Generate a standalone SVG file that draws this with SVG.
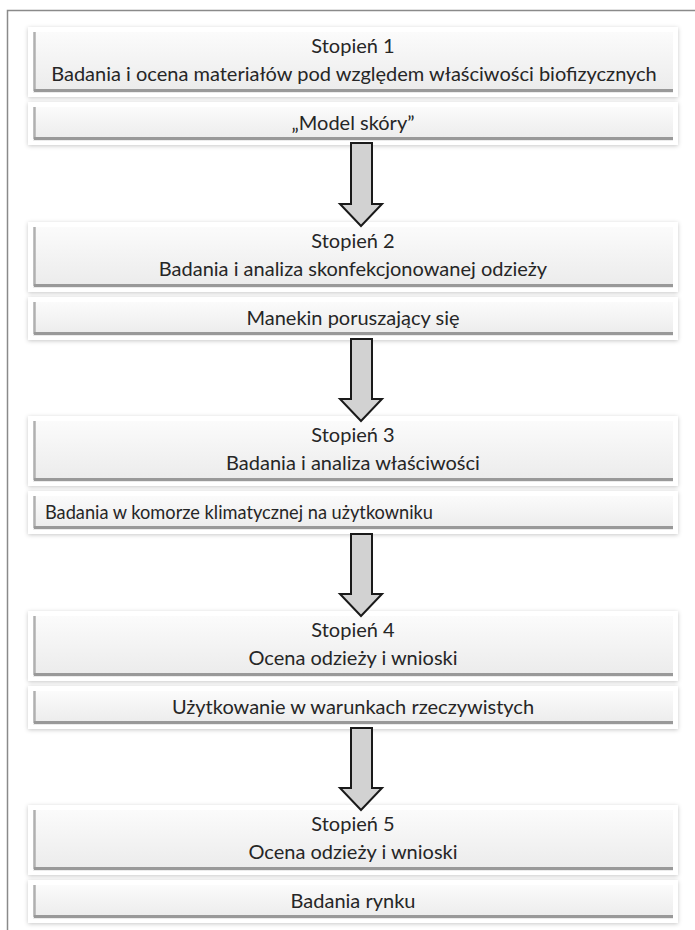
<svg xmlns="http://www.w3.org/2000/svg" width="695" height="930" viewBox="0 0 695 930">
<defs>
<linearGradient id="g" x1="0" y1="0" x2="0" y2="1">
<stop offset="0" stop-color="#fbfbfb"/>
<stop offset="1" stop-color="#ebebeb"/>
</linearGradient>
<filter id="sh" x="-5%" y="-20%" width="110%" height="140%">
<feDropShadow dx="0" dy="1" stdDeviation="2" flood-color="#000" flood-opacity="0.22"/>
</filter>
<symbol id="big" overflow="visible">
<rect x="0" y="0" width="650" height="70" fill="#fff" filter="url(#sh)"/>
<rect x="5" y="5" width="640" height="61" fill="url(#g)"/>
<line x1="6.5" y1="5" x2="6.5" y2="64" stroke="#b0b0b0" stroke-width="2.5"/>
<line x1="6" y1="63.5" x2="645" y2="63.5" stroke="#999" stroke-width="3"/>
</symbol>
<symbol id="small" overflow="visible">
<rect x="0" y="0" width="650" height="43" fill="#fff" filter="url(#sh)"/>
<rect x="5" y="5" width="640" height="34" fill="url(#g)"/>
<line x1="6.5" y1="5" x2="6.5" y2="37" stroke="#b0b0b0" stroke-width="2.5"/>
<line x1="6" y1="36.5" x2="645" y2="36.5" stroke="#999" stroke-width="3"/>
</symbol>
</defs>
<style>
text{font-family:Lato,"Open Sans","Liberation Sans",sans-serif;font-size:20px;fill:#262626;text-anchor:middle}
text.l{text-anchor:start}
.arr{fill:#d2d2d2;stroke:#1a1a1a;stroke-width:2;stroke-linejoin:miter}
</style>
<rect width="695" height="930" fill="#fff"/>
<path d="M7.5 930 V10.5 H695" fill="none" stroke="#8a8a8a" stroke-width="1.5"/>

<g id="stage1"><use href="#big" x="28" y="27"/><text x="353" y="53">Stopień 1</text><text x="354" y="81">Badania i ocena materiałów pod względem właściwości biofizycznych</text></g>
<g id="sub1"><use href="#small" x="28" y="102"/><text x="353" y="130">„Model skóry”</text></g>

<g id="stage2"><use href="#big" x="28" y="222"/><text x="353" y="248">Stopień 2</text><text x="353" y="276">Badania i analiza skonfekcjonowanej odzieży</text></g>
<g id="sub2"><use href="#small" x="28" y="297"/><text x="353" y="325">Manekin poruszający się</text></g>

<g id="stage3"><use href="#big" x="28" y="416"/><text x="353" y="442">Stopień 3</text><text x="353" y="470">Badania i analiza właściwości</text></g>
<g id="sub3"><use href="#small" x="28" y="491"/><text class="l" x="45" y="519" textLength="388" lengthAdjust="spacingAndGlyphs">Badania w komorze klimatycznej na użytkowniku</text></g>

<g id="stage4"><use href="#big" x="28" y="611"/><text x="353" y="637">Stopień 4</text><text x="353" y="665">Ocena odzieży i wnioski</text></g>
<g id="sub4"><use href="#small" x="28" y="686"/><text x="353" y="714">Użytkowanie w warunkach rzeczywistych</text></g>

<g id="stage5"><use href="#big" x="28" y="805"/><text x="353" y="831">Stopień 5</text><text x="353" y="859">Ocena odzieży i wnioski</text></g>
<g id="sub5"><use href="#small" x="28" y="880"/><text x="353" y="908">Badania rynku</text></g>

<g id="connectors">
<path class="arr" d="M351 143 H372 V204 H382 L361 226 L340 204 H351 Z"/>
<path class="arr" d="M351 339 H372 V399 H382 L361 421 L340 399 H351 Z"/>
<path class="arr" d="M351 534 H372 V594 H382 L361 616 L340 594 H351 Z"/>
<path class="arr" d="M351 728 H372 V788 H382 L361 810 L340 788 H351 Z"/>
</g>
</svg>
